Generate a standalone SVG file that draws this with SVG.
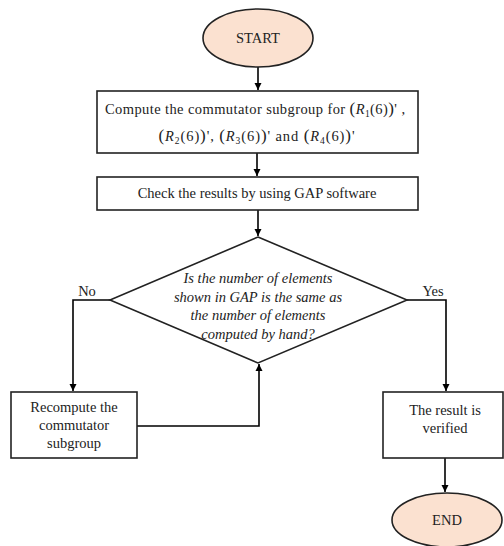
<svg xmlns="http://www.w3.org/2000/svg" width="504" height="546" viewBox="0 0 504 546" font-family="'Liberation Serif', 'DejaVu Serif', serif">
<defs>
<marker id="arr" markerWidth="8" markerHeight="8" refX="7" refY="4" orient="auto" markerUnits="userSpaceOnUse">
<path d="M0,0.5 L7,4 L0,7.5 Z" fill="#000"/>
</marker>
<style>
text{font-family:'Liberation Serif','DejaVu Serif',serif}
.t{font-size:14.5px;fill:#222;text-anchor:middle}
.i{font-style:italic}
.n{fill:#fff;stroke:#222;stroke-width:1.6}
.o{fill:#fbe1d0;stroke:#222;stroke-width:1.6}
.c{fill:none;stroke:#000;stroke-width:1.6}
.s{font-size:9.5px}
.p{font-size:17px}
</style>
</defs>
<rect width="504" height="546" fill="#fff"/>
<g id="connectors">
<line class="c" x1="258" y1="67" x2="258" y2="90" marker-end="url(#arr)"/>
<line class="c" x1="257" y1="153" x2="257" y2="176" marker-end="url(#arr)"/>
<line class="c" x1="258" y1="210" x2="258" y2="236" marker-end="url(#arr)"/>
<polyline class="c" points="110,300 73,300 73,391" marker-end="url(#arr)"/>
<polyline class="c" points="407,300 446,300 446,391" marker-end="url(#arr)"/>
<polyline class="c" points="137,426 259,426 259,364" marker-end="url(#arr)"/>
<line class="c" x1="445" y1="458" x2="445" y2="492" marker-end="url(#arr)"/>
<text class="t" x="87" y="296">No</text>
<text class="t" x="433" y="296">Yes</text>
</g>
<g id="start">
<ellipse class="o" cx="258" cy="38" rx="55" ry="29"/>
<text class="t" x="258" y="43">START</text>
</g>
<g id="compute">
<rect class="n" x="97" y="91" width="321" height="62"/>
<text class="t" x="255" y="114" textLength="300" lengthAdjust="spacing">Compute the commutator subgroup for <tspan class="p">(</tspan><tspan class="i">R</tspan><tspan class="s" dy="3">1</tspan><tspan dy="-3">(6)</tspan><tspan class="p">)</tspan>' ,</text>
<text class="t" x="256.5" y="141" textLength="196" lengthAdjust="spacing"><tspan class="p">(</tspan><tspan class="i">R</tspan><tspan class="s" dy="3">2</tspan><tspan dy="-3">(6)</tspan><tspan class="p">)</tspan>', <tspan class="p">(</tspan><tspan class="i">R</tspan><tspan class="s" dy="3">3</tspan><tspan dy="-3">(6)</tspan><tspan class="p">)</tspan>' and <tspan class="p">(</tspan><tspan class="i">R</tspan><tspan class="s" dy="3">4</tspan><tspan dy="-3">(6)</tspan><tspan class="p">)</tspan>'</text>
</g>
<g id="check">
<rect class="n" x="97" y="177" width="321" height="33"/>
<text class="t" x="257" y="198">Check the results by using GAP software</text>
</g>
<g id="decision">
<polygon class="n" points="258,237 407,300 258,363 110,300"/>
<text class="t i" x="258" y="283">Is the number of elements</text>
<text class="t i" x="258" y="302">shown in GAP is the same as</text>
<text class="t i" x="258" y="320">the number of elements</text>
<text class="t i" x="258" y="339">computed by hand?</text>
</g>
<g id="recompute">
<rect class="n" x="11" y="392" width="126" height="66"/>
<text class="t" x="74" y="412">Recompute the</text>
<text class="t" x="74" y="430">commutator</text>
<text class="t" x="74" y="448">subgroup</text>
</g>
<g id="verified">
<rect class="n" x="383" y="392" width="120" height="66"/>
<text class="t" x="445" y="415">The result is</text>
<text class="t" x="445" y="433">verified</text>
</g>
<g id="end">
<ellipse class="o" cx="447" cy="520" rx="55" ry="27"/>
<text class="t" x="447" y="525">END</text>
</g>
</svg>
